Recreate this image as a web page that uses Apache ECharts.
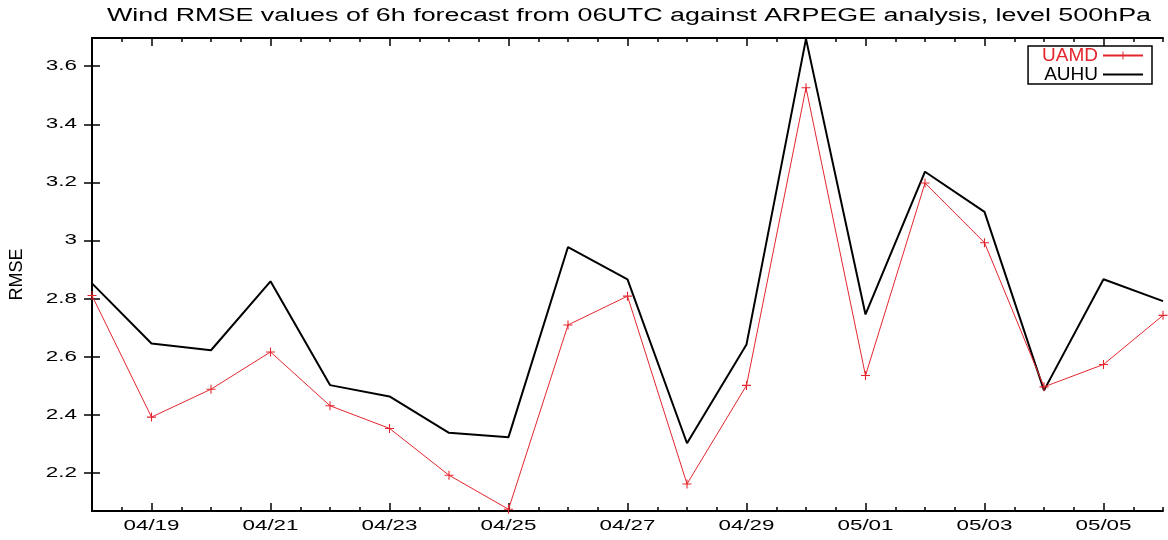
<!DOCTYPE html>
<html>
<head>
<meta charset="utf-8">
<script src="https://cdn.jsdelivr.net/npm/echarts@6/dist/echarts.min.js"></script>
<style>
  html, body { margin: 0; padding: 0; background: #fff; }
  #chart { width: 1168px; height: 540px; }
</style>
</head>
<body>
<div id="chart"></div>
<script>
// data
const dates = ['04/18', '04/19', '04/20', '04/21', '04/22', '04/23', '04/24', '04/25', '04/26', '04/27',
  '04/28', '04/29', '04/30', '05/01', '05/02', '05/03', '05/04', '05/05', '05/06']
const uamd = [2.811, 2.393, 2.489, 2.617, 2.432, 2.354, 2.193, 2.076, 2.710, 2.809,
  2.163, 2.502, 3.526, 2.536, 3.198, 2.993, 2.497, 2.574, 2.743]
const auhu = [2.853, 2.646, 2.623, 2.860, 2.503, 2.464, 2.339, 2.324, 2.978, 2.867,
  2.303, 2.643, 3.694, 2.746, 3.237, 3.099, 2.485, 2.867, 2.792]
const yTicks = [2.2, 2.4, 2.6, 2.8, 3.0, 3.2, 3.4, 3.6]
const yMin = 2.07
const yMax = 3.697
const titleText = 'Wind RMSE values of 6h forecast from 06UTC against ARPEGE analysis, level 500hPa'

const red = '#e3262d'
const font = 'Liberation Sans'
const plus = 'path://M4.4,0H5.6V4.4H10V5.6H5.6V10H4.4V5.6H0V4.4H4.4Z'
// the source picture is stretched sideways, so text is widened to match
const stretch = 1.6

let chart = echarts.init(document.getElementById('chart'))

// labelled day ticks (odd indices) are long, half-day ticks are short
const oddDay = (i) => i % 2 === 1

function dayAxis(pos) {
  return {
    type: 'category',
    position: pos,
    data: dates,
    boundaryGap: false,
    axisLine: { show: true, lineStyle: { color: '#000', width: 2 } },
    axisTick: { show: true, inside: true, length: 8, interval: (i) => oddDay(i), lineStyle: { color: '#000', width: 1.5 } },
    axisLabel: { show: false },
    splitLine: { show: false },
  }
}

function halfDayAxis(pos) {
  return {
    type: 'value',
    position: pos,
    min: 0,
    max: dates.length - 1,
    interval: 0.5,
    axisLine: { show: false },
    axisTick: { show: true, inside: true, length: 4, lineStyle: { color: '#000', width: 1.5 } },
    axisLabel: { show: false },
    splitLine: { show: false },
  }
}

function rmseAxis(pos, withName) {
  return {
    type: 'value',
    position: pos,
    min: yMin,
    max: yMax,
    name: withName ? 'RMSE' : '',
    nameLocation: 'middle',
    nameRotate: 90,
    nameGap: 66,
    nameTextStyle: { color: '#000', fontFamily: font, fontSize: 18 },
    axisLine: { show: true, lineStyle: { color: '#000', width: 2 } },
    axisTick: { show: true, inside: true, length: 8, customValues: yTicks, lineStyle: { color: '#000', width: 1.5 } },
    axisLabel: { show: false },
    splitLine: { show: false },
  }
}

let option = {
  animation: false,
  backgroundColor: '#fff',
  grid: { left: 92, right: 5, top: 38, bottom: 29, containLabel: false },
  legend: {
    orient: 'vertical',
    right: 16,
    top: 46,
    align: 'right',
    borderColor: '#000',
    borderWidth: 1.5,
    borderRadius: 0,
    padding: [0, 8, 0, 14],
    itemGap: 0,
    itemWidth: 40,
    itemHeight: 10,
    textStyle: { fontFamily: font, fontSize: 19, lineHeight: 15 },
    data: [
      { name: 'UAMD', textStyle: { color: red } },
      { name: 'AUHU', textStyle: { color: '#000' }, itemStyle: { opacity: 0 } },
    ],
  },
  xAxis: [dayAxis('bottom'), halfDayAxis('bottom'), dayAxis('top'), halfDayAxis('top')],
  yAxis: [rmseAxis('left', true), rmseAxis('right', false)],
  series: [
    {
      name: 'AUHU',
      type: 'line',
      data: auhu,
      symbol: 'none',
      lineStyle: { color: '#000', width: 2 },
      itemStyle: { color: '#000' },
      z: 2,
    },
    {
      name: 'UAMD',
      type: 'line',
      data: uamd,
      symbol: plus,
      symbolSize: 9,
      showAllSymbol: true,
      lineStyle: { color: red, width: 1 },
      itemStyle: { color: red },
      z: 3,
    },
  ],
}

chart.setOption(option)

// tick labels and title as stretched text, placed through the axes
let ctx = document.createElement('canvas').getContext('2d')
function textWidth(t, f) {
  ctx.font = f
  return ctx.measureText(t).width
}

const tickFont = '14px "Liberation Sans"'
const titleFont = '18px "Liberation Sans"'
let texts = []

dates.forEach((d, i) => {
  if (!oddDay(i)) return
  texts.push({
    type: 'text',
    x: chart.convertToPixel({ xAxisIndex: 0 }, d),
    y: 519,
    scaleX: stretch,
    style: { text: d, font: tickFont, fill: '#000', textAlign: 'center', textVerticalAlign: 'top' },
  })
})

yTicks.forEach((v) => {
  texts.push({
    type: 'text',
    x: 77,
    y: chart.convertToPixel({ yAxisIndex: 0 }, v),
    scaleX: stretch,
    style: { text: String(Math.round(v * 10) / 10), font: tickFont, fill: '#000', textAlign: 'right', textVerticalAlign: 'middle' },
  })
})

texts.push({
  type: 'text',
  x: 629,
  y: 7,
  scaleX: 1044 / textWidth(titleText, titleFont),
  style: { text: titleText, font: titleFont, fill: '#000', textAlign: 'center', textVerticalAlign: 'top' },
})

chart.setOption({ graphic: texts })
</script>
</body>
</html>
